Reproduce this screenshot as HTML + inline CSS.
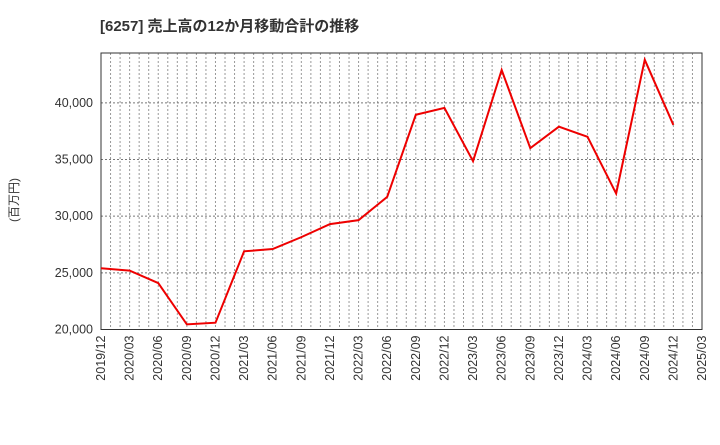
<!DOCTYPE html>
<html><head><meta charset="utf-8">
<style>
body{margin:0;background:#fff;width:720px;height:440px;overflow:hidden;font-family:"Liberation Sans","Noto Sans CJK JP",sans-serif}
</style></head>
<body>
<svg id="chart" width="720" height="440" xmlns="http://www.w3.org/2000/svg">
<text x="100" y="31" font-size="15" font-weight="bold" fill="#333" font-family="Liberation Sans, Noto Sans CJK JP, sans-serif">[6257]  売上高の12か月移動合計の推移</text>
<text transform="translate(18,200) rotate(-90)" text-anchor="middle" font-size="12" fill="#333" font-family="Liberation Sans, Noto Sans CJK JP, sans-serif">(百万円)</text>
<g id="grid"></g><g id="axes"></g><g id="series"></g>
</svg>
<script>
const categories=["2019/12","2020/03","2020/06","2020/09","2020/12","2021/03","2021/06","2021/09","2021/12","2022/03","2022/06","2022/09","2022/12","2023/03","2023/06","2023/09","2023/12","2024/03","2024/06","2024/09","2024/12","2025/03"];
const salesValues=[25400,25200,24100,20450,20600,26900,27100,28150,29300,29650,31700,38950,39550,34850,42900,36000,37900,37000,32000,43800,38050];
const yTicks=[20000,25000,30000,35000,40000];
const yTickLabels=["20,000","25,000","30,000","35,000","40,000"];
const NS="http://www.w3.org/2000/svg";
const L=101,R=702,T=53,B=329.5,yMin=20000,yMax=44400;
const x=i=>L+(R-L)*i/(categories.length-1);
const y=v=>B-(v-yMin)/(yMax-yMin)*(B-T);
function mk(tag,attrs,parent){const e=document.createElementNS(NS,tag);for(const k in attrs)e.setAttribute(k,attrs[k]);parent.appendChild(e);return e;}
const grid=document.getElementById('grid'),axes=document.getElementById('axes'),series=document.getElementById('series');
const months=(categories.length-1)*3;
for(let m=1;m<months;m++){const xx=L+(R-L)*m/months;const g=mk('line',{x1:xx,x2:xx,y1:T,y2:B,stroke:'#999','stroke-dasharray':'2,2','stroke-width':1},grid);

}
yTicks.forEach((v,i)=>{const yy=y(v);
const g=mk('line',{x1:L,x2:R,y1:yy,y2:yy,stroke:'#777','stroke-dasharray':'2,2','stroke-width':1},grid);


const t=mk('text',{x:L-8,y:yy+4,'text-anchor':'end','font-size':12.5,fill:'#333'},axes);t.textContent=yTickLabels[i];

});
categories.forEach((c,i)=>{const xx=x(i);
const t=mk('text',{transform:`translate(${xx+4},${B+6}) rotate(-90)`,'text-anchor':'end','font-size':12.5,fill:'#333'},axes);t.textContent=c;

});
const frame=mk('rect',{x:L,y:T,width:R-L,height:B-T,fill:'none',stroke:'#333','stroke-width':1},axes);


const line=mk('polyline',{points:salesValues.map((v,i)=>x(i)+','+y(v)).join(' '),fill:'none',stroke:'#e00','stroke-width':2},series);


</script>
</body></html>
